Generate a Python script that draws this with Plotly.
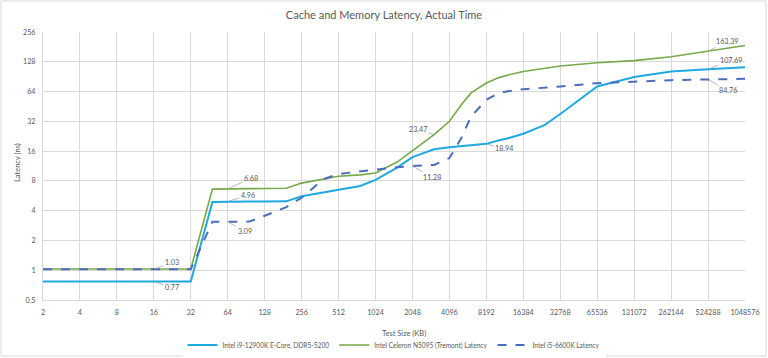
import math
import plotly.graph_objects as go

# Test sizes (KB)
test_size_kb = [2, 4, 8, 12, 16, 24, 32, 48, 64, 96, 128, 192, 256, 384, 512, 768, 1024,
                1536, 2048, 3072, 4096, 5120, 6144, 8192, 10240, 12288, 16384, 24576,
                32768, 65536, 131072, 262144, 524288, 1048576]

# Latency (ns)
i9_ecore = [0.77, 0.77, 0.77, 0.77, 0.77, 0.77, 0.77, 4.9, 4.96, 4.96, 4.96, 4.97, 5.6, 6.1,
            6.5, 7.1, 8.2, 10.9, 13.9, 16.7, 17.5, 17.9, 18.3, 18.94, 20.5, 21.6, 24.0, 29.5,
            38.0, 72.0, 90.0, 102.0, 107.69, 113.0]
celeron_n5095 = [1.03, 1.03, 1.03, 1.03, 1.03, 1.03, 1.03, 6.6, 6.68, 6.68, 6.7, 6.75, 7.6, 8.4,
                 8.9, 9.2, 9.6, 12.4, 16.2, 23.47, 32.0, 47.0, 62.0, 78.0, 88.0, 94.0, 102.0,
                 110.0, 116.0, 125.0, 131.5, 144.0, 163.39, 187.0]
i5_6600k = [1.02, 1.02, 1.02, 1.02, 1.02, 1.02, 1.02, 3.09, 3.09, 3.1, 3.55, 4.35, 5.4, 8.3,
            9.4, 10.0, 10.5, 11.0, 11.28, 11.6, 13.6, 21.7, 35.8, 52.8, 61.7, 64.5, 67.5,
            70.0, 72.0, 77.8, 81.0, 83.5, 84.76, 86.0]

series_names = ["Intel i9-12900K E-Core, DDR5-5200",
                "Intel Celeron N5095 (Tremont) Latency",
                "Intel i5-6600K Latency"]

x_ticks = [2 ** k for k in range(1, 21)]
y_ticks = [0.5, 1, 2, 4, 8, 16, 32, 64, 128, 256]
y_tick_text = ["0.5", "1", "2", "4", "8", "16", "32", "64", "128", "256"]

# Data labels: (series index, test size, pixel offset x, pixel offset y)
labels = [
    (1, 16, 18, -6), (0, 16, 18, 6),
    (1, 64, 23, -10), (0, 64, 20, -6), (2, 64, 17, 10),
    (1, 3072, -16, -5), (2, 2048, 20, 11), (0, 8192, 18, 5),
    (1, 524288, 19, -10), (0, 524288, 23, -9), (2, 524288, 20, 11),
]

BLUE = "#1FA9E1"
GREEN = "#76A947"
DBLUE = "#4A6EBE"
GRID = "#D9D9D9"
TXT = "#595959"
FONT = "Lato"

series_vals = [i9_ecore, celeron_n5095, i5_6600k]
styles = [dict(color=BLUE, width=2), dict(color=GREEN, width=1.6),
          dict(color=DBLUE, width=2, dash="dash")]

fig = go.Figure()
for name, vals, st in zip(series_names, series_vals, styles):
    fig.add_trace(go.Scatter(x=test_size_kb, y=vals, mode="lines", name=name, line=st))

annotations = []
for si, xs, ax, ay in labels:
    v = series_vals[si][test_size_kb.index(xs)]
    annotations.append(dict(
        x=math.log10(xs), y=math.log10(v), xref="x", yref="y",
        text=f"{v:.2f}", showarrow=True, arrowhead=0, arrowwidth=0.8,
        arrowcolor="#A6A6A6", ax=ax, ay=ay, standoff=1,
        font=dict(family=FONT, size=7.2, color=TXT)))

# Axis titles
annotations.append(dict(x=0.5, y=-(333 - 300) / 268, xref="paper", yref="paper",
                        text="Test Size (KB)", showarrow=False, yanchor="middle",
                        xanchor="center", xshift=10,
                        font=dict(family=FONT, size=7.5, color=TXT)))
annotations.append(dict(x=-(43 - 17) / 702, y=(300 - 163) / 268, xref="paper", yref="paper",
                        text="Latency (ns)", showarrow=False, textangle=-90,
                        xanchor="center", yanchor="middle",
                        font=dict(family=FONT, size=7.5, color=TXT)))

fig.update_layout(
    width=768, height=358,
    margin=dict(l=43, r=23, t=32, b=58, autoexpand=False),
    paper_bgcolor="white", plot_bgcolor="white",
    title=dict(text="Cache and Memory Latency, Actual Time", x=0.5, xanchor="center",
               y=1 - 15 / 358, yanchor="middle", yref="container", automargin=False,
               font=dict(family=FONT, size=11, color=TXT)),
    showlegend=True,
    legend=dict(orientation="h", x=0.5, xanchor="center", y=-(345 - 300) / 268,
                yanchor="middle", font=dict(family=FONT, size=6.6, color=TXT),
                tracegroupgap=0),
    annotations=annotations,
    shapes=[dict(type="rect", xref="paper", yref="paper",
                 x0=-(43 - 1) / 702, x1=1 + (766 - 745) / 702,
                 y0=-(356 - 300) / 268, y1=1 + (32 - 1) / 268,
                 line=dict(color=GRID, width=1), layer="below")],
)

fig.update_xaxes(type="log", range=[math.log10(2), math.log10(1048576)],
                 tickvals=x_ticks, ticktext=[str(t) for t in x_ticks], automargin=False,
                 showgrid=True, gridcolor=GRID, gridwidth=1,
                 showline=True, linecolor=GRID, mirror=False, zeroline=False,
                 ticks="", tickfont=dict(family=FONT, size=7.2, color=TXT), ticklabelstandoff=5)
fig.update_yaxes(type="log", range=[math.log10(0.5), math.log10(256)],
                 tickvals=y_ticks, ticktext=y_tick_text, automargin=False,
                 showgrid=True, gridcolor=GRID, gridwidth=1,
                 showline=True, linecolor=GRID, zeroline=False,
                 ticks="", tickfont=dict(family=FONT, size=7.2, color=TXT), ticklabelstandoff=5)

fig.write_html("out.html", config={"displayModeBar": False},
               post_script="document.body.style.margin='0';document.body.style.overflow='hidden';")
